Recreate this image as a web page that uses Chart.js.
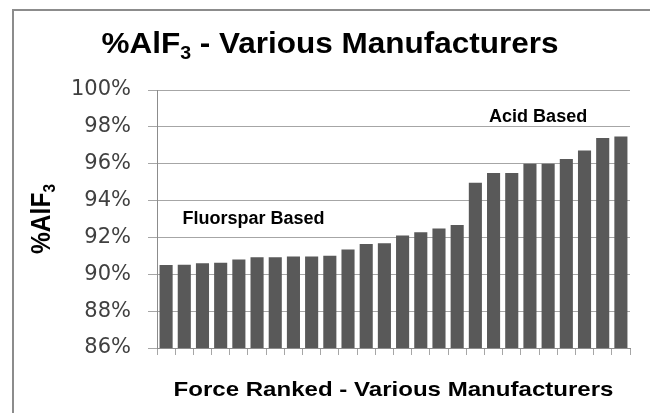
<!DOCTYPE html>
<html lang="en">
<head>
    <meta charset="UTF-8"/>
    <title>%AlF3 - Various Manufacturers</title>
    <script src="https://cdn.jsdelivr.net/npm/chart.js@4.4.0/dist/chart.umd.min.js"></script>
    <style>
        html, body { margin: 0; padding: 0; background: #fff; }
        #wrap { width: 650px; height: 413px; position: relative; }
    </style>
</head>
<body>

<div id="wrap">
    <canvas id="chart" width="650" height="413"></canvas>
</div>

<script>
    // manufacturers, force ranked low -> high
    const ranks = ['1', '2', '3', '4', '5', '6', '7', '8', '9', '10', '11', '12', '13',
        '14', '15', '16', '17', '18', '19', '20', '21', '22', '23', '24', '25', '26'];
    const alf3 = [90.5, 90.52, 90.6, 90.63, 90.8, 90.93, 90.93, 90.97, 90.97, 91.0, 91.35, 91.65, 91.68,
        92.1, 92.28, 92.48, 92.68, 94.97, 95.5, 95.5, 96.0, 96.0, 96.25, 96.72, 97.4, 97.48];
    const yTicks = [86, 88, 90, 92, 94, 96, 98, 100];

    // group notes: text, category position, value position
    const noteText = ['Fluorspar Based', 'Acid Based'];
    const noteAt = [4.8, 20.45];
    const noteValue = [93.0, 98.55];

    const font = "'Liberation Sans', Arial, sans-serif";

    // draws text parts (main + subscript) fitted to a given width, centred on cx
    function drawParts(ctx, parts, cx, base, width) {
        let total = 0;
        parts.forEach(p => {
            ctx.font = p.font;
            p.w = ctx.measureText(p.text).width;
            total += p.w;
        });
        const sx = width / total;
        ctx.save();
        ctx.translate(cx - width / 2, base);
        ctx.scale(sx, 1);
        ctx.textAlign = 'left';
        ctx.textBaseline = 'alphabetic';
        let px = 0;
        parts.forEach(p => {
            ctx.font = p.font;
            ctx.fillText(p.text, px, p.dy || 0);
            px += p.w;
        });
        ctx.restore();
    }

    // draws the frame, title, axis titles and the two group notes
    const textPlugin = {
        id: 'texts',
        beforeDraw(chart) {
            const ctx = chart.ctx;
            ctx.save();
            ctx.strokeStyle = '#8c8c8c';
            ctx.lineWidth = 2;
            ctx.beginPath();
            ctx.moveTo(13, 413);
            ctx.lineTo(13, 10);
            ctx.lineTo(650, 10);
            ctx.stroke();
            ctx.restore();
        },
        afterDraw(chart) {
            const ctx = chart.ctx;
            const x = chart.scales.x;
            const y = chart.scales.y;
            ctx.save();
            ctx.fillStyle = '#000';

            // title with subscript
            drawParts(ctx, [
                {text: '%AlF', font: 'bold 29px ' + font},
                {text: '3', font: 'bold 18px ' + font, dy: 6},
                {text: ' - Various Manufacturers', font: 'bold 29px ' + font}
            ], 330, 53, 457);

            // y axis title, rotated
            ctx.save();
            ctx.translate(50, (y.top + y.bottom) / 2);
            ctx.rotate(-Math.PI / 2);
            drawParts(ctx, [
                {text: '%AlF', font: 'bold 27px ' + font},
                {text: '3', font: 'bold 17px ' + font, dy: 5}
            ], 0, 0, 70);
            ctx.restore();

            // x axis title, centred under the plot
            drawParts(ctx, [
                {text: 'Force Ranked - Various Manufacturers', font: 'bold 21px ' + font}
            ], (x.left + x.right) / 2, 396, 440);

            // group notes
            ctx.font = 'bold 18px ' + font;
            ctx.textAlign = 'center';
            ctx.textBaseline = 'middle';
            noteText.forEach((t, i) => {
                ctx.fillText(t, x.getPixelForValue(noteAt[i]), y.getPixelForValue(noteValue[i]));
            });
            ctx.restore();
        }
    };

    const ctx = document.getElementById('chart').getContext('2d');
    new Chart(ctx, {
        type: 'bar',
        data: {
            labels: ranks,
            datasets: [{
                label: '%AlF3',
                data: alf3,
                backgroundColor: '#595959',
                borderWidth: 0,
                barPercentage: 0.72,
                categoryPercentage: 1.0
            }]
        },
        options: {
            responsive: false,
            animation: false,
            layout: {
                padding: {left: 0, right: 20, top: 90, bottom: 0}
            },
            scales: {
                x: {
                    afterFit(s) { s.height = 65; },
                    grid: {
                        offset: true,
                        drawOnChartArea: false,
                        tickLength: 7,
                        color: '#a6a6a6'
                    },
                    border: {color: '#8c8c8c'},
                    ticks: {display: false}
                },
                y: {
                    min: 86,
                    max: 100,
                    afterFit(s) { s.width = 157; },
                    afterBuildTicks(s) { s.ticks = yTicks.map(v => ({value: v})); },
                    grid: {
                        color: '#a6a6a6',
                        tickLength: 9
                    },
                    border: {color: '#8c8c8c'},
                    ticks: {
                        padding: 17,
                        color: '#404040',
                        font: {family: "'DejaVu Sans', sans-serif", size: 21},
                        callback: v => v + '%'
                    }
                }
            },
            plugins: {
                legend: {display: false},
                title: {display: false},
                tooltip: {enabled: false}
            }
        },
        plugins: [textPlugin]
    });
</script>

</body>
</html>
